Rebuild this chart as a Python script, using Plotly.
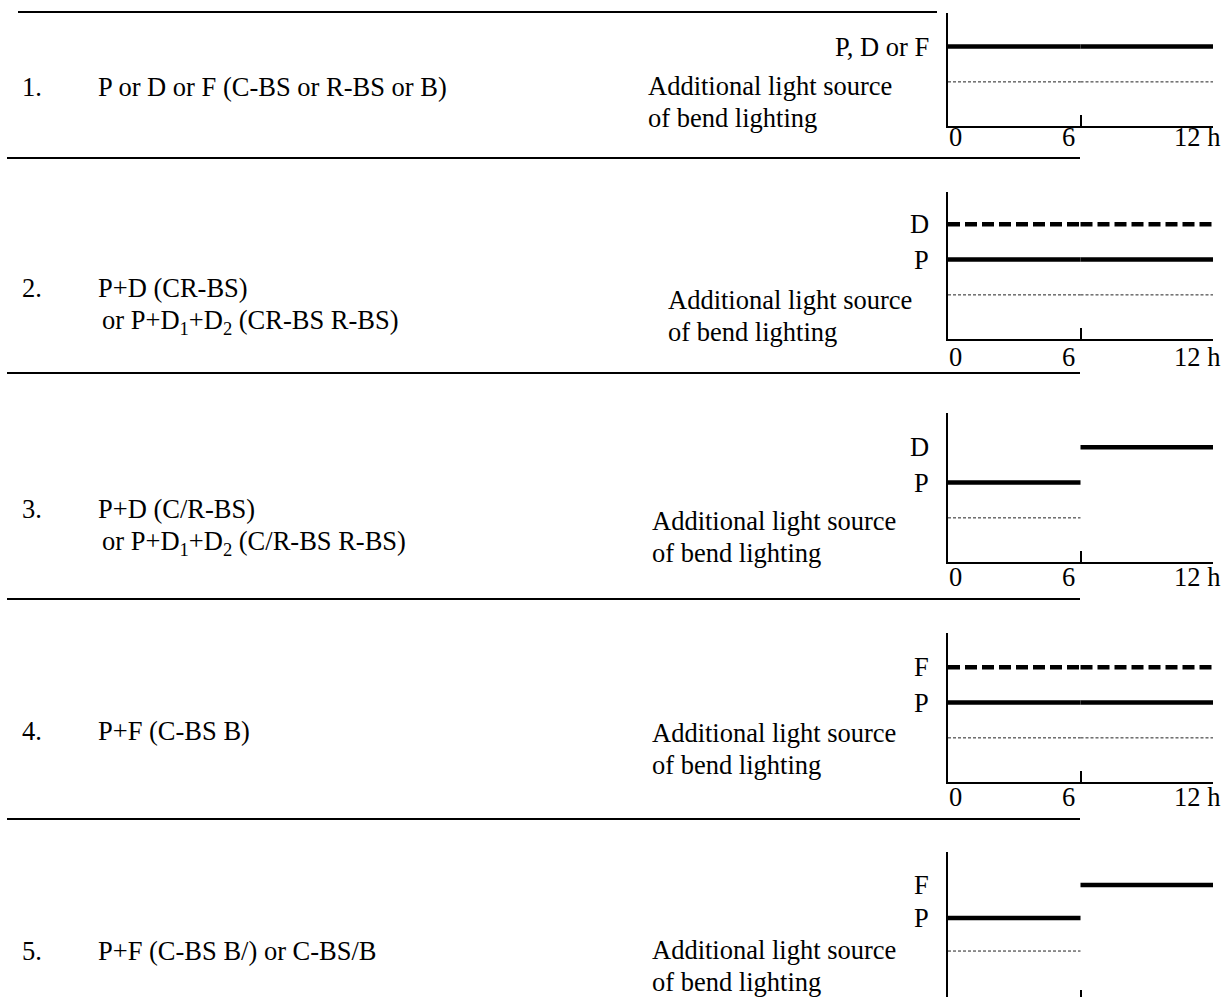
import plotly.graph_objects as go

# ------------------------------------------------------------------ data
row_numbers = ["1.", "2.", "3.", "4.", "5."]
row_line1 = [
    "P or D or F (C-BS or R-BS or B)",
    "P+D (CR-BS)",
    "P+D (C/R-BS)",
    "P+F (C-BS B)",
    "P+F (C-BS B/) or C-BS/B",
]
row_line2 = [
    "",
    "or P+D<sub>1</sub>+D<sub>2</sub> (CR-BS R-BS)",
    "or P+D<sub>1</sub>+D<sub>2</sub> (C/R-BS R-BS)",
    "",
    "",
]
bend_text1 = "Additional light source"
bend_text2 = "of bend lighting"

time_edges = [0, 6, 12]            # hours, two 6-hour intervals
tick_values = [0, 6, 12]
tick_labels = ["0", "6", "12 h"]

main_lamp = ["P, D or F", "P", "P", "P", "P"]
second_lamp = ["", "D", "D", "F", "F"]
# on (1) / off (0) state for each 6-hour interval
main_on = [[1, 1], [1, 1], [1, 0], [1, 1], [1, 0]]
second_on = [[0, 0], [1, 1], [0, 1], [1, 1], [0, 1]]
bend_on = [[1, 1], [1, 1], [1, 0], [1, 1], [1, 0]]
bend_level = 1
main_level = 2
second_level = 3

# ------------------------------------------------------------------ layout config
W, H = 1226, 997
X0, X1 = 948, 1213
UNIT = 35.3          # pixels per level step
BASE = 0.25          # axis line sits this far below level 0
axis_bottom = [126, 339, 562, 782, 1002]
axis_top = [13, 192, 413, 633, 852]
sep_y = [12, 158, 373, 599, 819]
sep_x = [(18, 937), (7, 1080), (7, 1080), (7, 1080), (7, 1080)]
row_y1 = [87, 288, 509, 731, 951]
row_y2 = [None, 322, 543, None, None]
bend_x = [648, 668, 652, 652, 652]
bend_y = [86, 300, 521, 733, 950]
tick_lab_off = [10.5, 17.5, 15, 15, 15]
FONT = "Liberation Serif, Times New Roman, serif"
FS = 26.5


def px(x):
    return x / W


def py(y):
    return 1 - y / H


fig = go.Figure()
annotations = []
shapes = []
ann_font = dict(family=FONT, size=FS, color="black")

for i in range(5):
    sfx = "" if i == 0 else str(i + 1)
    xa, ya = "x" + sfx, "y" + sfx
    bottom_px = min(axis_bottom[i], H)
    lo = -BASE - (axis_bottom[i] - bottom_px) / UNIT
    hi = -BASE + (axis_bottom[i] - axis_top[i]) / UNIT
    visible_axis = axis_bottom[i] <= H

    fig.layout["xaxis" + sfx] = dict(
        domain=[px(X0), px(X1)], range=[time_edges[0], time_edges[-1]],
        anchor=ya, showline=visible_axis, linecolor="black", linewidth=2,
        ticks="inside", tickvals=tick_values[1:], ticklen=11 if visible_axis else 7,
        tickwidth=2, tickcolor="black", showticklabels=False, showgrid=False,
        zeroline=False, fixedrange=True,
    )
    fig.layout["yaxis" + sfx] = dict(
        domain=[py(bottom_px), py(axis_top[i])], range=[lo, hi], anchor=xa,
        showline=True, linecolor="black", linewidth=2, ticks="",
        showticklabels=False, showgrid=False, zeroline=False, fixedrange=True,
    )

    concurrent = any(m and s for m, s in zip(main_on[i], second_on[i]))
    for k in range(len(time_edges) - 1):
        seg = [time_edges[k], time_edges[k + 1]]
        if bend_on[i][k]:
            fig.add_trace(go.Scatter(x=seg, y=[bend_level] * 2, mode="lines",
                                     line=dict(color="#222", width=1, dash="3px,2px"),
                                     xaxis=xa, yaxis=ya, showlegend=False, hoverinfo="skip"))
        if main_on[i][k]:
            fig.add_trace(go.Scatter(x=seg, y=[main_level] * 2, mode="lines",
                                     line=dict(color="black", width=4.5),
                                     xaxis=xa, yaxis=ya, showlegend=False, hoverinfo="skip"))
        if second_on[i][k]:
            fig.add_trace(go.Scatter(x=seg, y=[second_level] * 2, mode="lines",
                                     line=dict(color="black", width=4.5,
                                               dash="12px,5px" if concurrent else "solid"),
                                     xaxis=xa, yaxis=ya, showlegend=False, hoverinfo="skip"))

    # lamp labels
    annotations.append(dict(text=main_lamp[i], x=0, y=main_level, xref=xa, yref=ya,
                            xanchor="right", yanchor="middle", xshift=-18,
                            showarrow=False, font=ann_font, borderpad=0))
    if second_lamp[i]:
        annotations.append(dict(text=second_lamp[i], x=0, y=second_level, xref=xa, yref=ya,
                                xanchor="right", yanchor="middle", xshift=-18,
                                showarrow=False, font=ann_font, borderpad=0))
    # tick labels (below the axis line)
    if visible_axis:
        anchors = ["left", "right", "right"]
        shifts = [0, -5, 8]
        for v, t, a, s in zip(tick_values, tick_labels, anchors, shifts):
            annotations.append(dict(text=t, x=v, y=0, xref=xa, yref=ya + " domain",
                                    xanchor=a, yanchor="middle", xshift=s,
                                    yshift=-tick_lab_off[i], showarrow=False,
                                    font=ann_font, borderpad=0))
    # row texts
    annotations.append(dict(text=row_numbers[i], x=px(21), y=py(row_y1[i]), xref="paper",
                            yref="paper", xanchor="left", yanchor="middle", showarrow=False,
                            font=ann_font, borderpad=0))
    annotations.append(dict(text=row_line1[i], x=px(97), y=py(row_y1[i]), xref="paper",
                            yref="paper", xanchor="left", yanchor="middle", showarrow=False,
                            font=ann_font, borderpad=0))
    if row_line2[i]:
        annotations.append(dict(text=row_line2[i], x=px(101), y=py(row_y2[i]), xref="paper",
                                yref="paper", xanchor="left", yanchor="middle", showarrow=False,
                                font=ann_font, borderpad=0))
    annotations.append(dict(text=bend_text1, x=px(bend_x[i] - 1), y=py(bend_y[i]), xref="paper",
                            yref="paper", xanchor="left", yanchor="middle", showarrow=False,
                            font=ann_font, borderpad=0))
    annotations.append(dict(text=bend_text2, x=px(bend_x[i] - 1), y=py(bend_y[i] + 32),
                            xref="paper", yref="paper", xanchor="left", yanchor="middle",
                            showarrow=False, font=ann_font, borderpad=0))

for yv, (xa0, xa1) in zip(sep_y, sep_x):
    shapes.append(dict(type="line", xref="paper", yref="paper", x0=px(xa0), x1=px(xa1),
                       y0=py(yv), y1=py(yv), line=dict(color="black", width=2)))

fig.update_layout(
    width=W, height=H, margin=dict(l=0, r=0, t=0, b=0),
    paper_bgcolor="white", plot_bgcolor="white",
    annotations=annotations, shapes=shapes, showlegend=False,
    font=dict(family=FONT, size=FS, color="black"),
)

fig.write_html("out.html", config={"displayModeBar": False},
               post_script="document.body.style.margin='0';document.body.style.overflow='hidden';")
